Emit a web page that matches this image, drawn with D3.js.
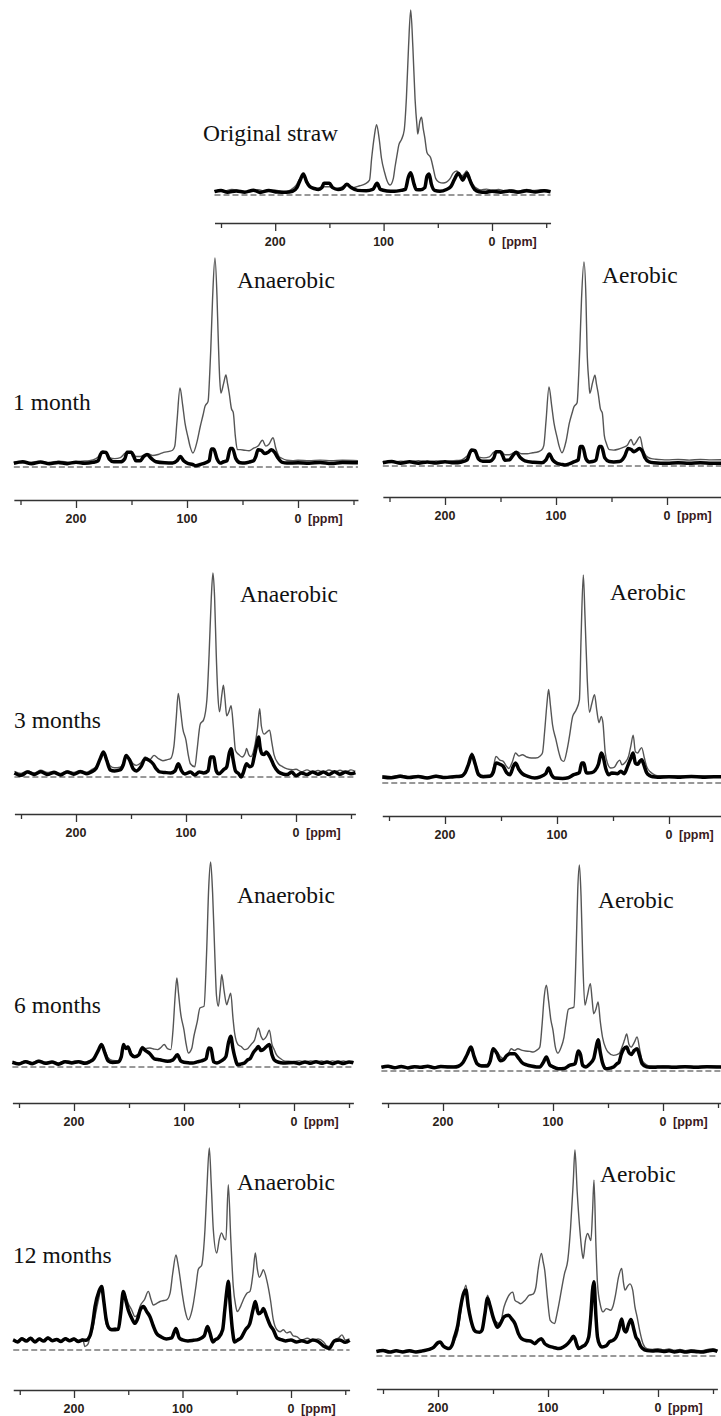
<!DOCTYPE html>
<html>
<head>
<meta charset="utf-8">
<script src="https://cdn.jsdelivr.net/npm/d3@7"></script>
<style>
  body { margin: 0; background: #fff; }
  svg { display: block; }
</style>
</head>
<body>
<svg id="fig" width="721" height="1416"></svg>
<script>
// spectra: [ppm, relative intensity], main peak = 100, dashed baseline = 0
// thin grey line = whole spectrum, thick black line = second spectrum

const strawThin = [[256,2.5],[248,2],[240,3],[232,2.2],[224,1.6],[216,2.8],[208,2],[200,2.6],[192,1.8],[186,2.7],[181,5],[177,9],[174,10],[171,8],[167,4.5],[162,3.5],[156,4.5],[150,4.5],[145,3.5],[140,4],[134,5.4],[128,4],[122,5],[117,6],[113,8],[111,20],[108.5,32],[106.5,38],[104,30],[102,20],[99,12],[97,8],[94,5.4],[91,9],[89.5,15],[87.5,22],[86,27],[83.5,30],[81,35],[79,52],[77,80],[75,100],[73,80],[71,52],[69,36],[68.5,33],[66.5,40],[65,42],[63.5,36],[62,31],[60,23],[56.5,20],[54,14],[52,9],[49,7],[45,6.5],[42,7],[38.5,9],[36,11.7],[32.5,13],[30,11],[28,10],[25.5,11.5],[23.4,13],[21,10],[18.8,7],[16,4.5],[14,3.6],[10,2.7],[5,3.2],[0,2.5],[-6,3],[-12,2.2],[-18,2.8],[-25,2.2],[-32,3],[-38,2.4],[-45,2.8],[-54,2.2]];
const strawThick = [[256,1.8],[250,2.5],[244,1.5],[236,2.2],[228,1.5],[220,2.6],[214,1.4],[206,2.5],[198,1.6],[190,1.5],[184,2],[180,4],[177,8],[174,11.4],[171,7],[168,4.5],[164,3.5],[160,3],[157,4],[155,6.3],[150,6.3],[147,4],[142,3],[138,3.5],[134,5.8],[130,4],[124,2.5],[116,2.3],[110,3],[106,6.3],[103,3],[97,2.2],[90,2],[84,2.5],[80,3],[77,10],[75,12],[72,6],[70,3],[66,2.8],[62,4],[60,10],[58,11.4],[56,6],[53,2.5],[48,2],[42,3],[38,4.5],[35,8],[31,11.7],[29,10],[27,8],[25,10],[23,11.7],[21,9],[19,6],[16,3],[12,1.8],[6,1.5],[0,2],[-8,1.5],[-16,2.2],[-24,1.5],[-32,2.3],[-40,1.6],[-48,2.3],[-54,1.8]];

const an1Thin = [[256,2.3],[245,2],[235,2.6],[225,2.2],[215,2.8],[205,2.2],[195,2.8],[188,3],[182,4],[178,6],[175.5,7.5],[173,6.5],[170,4.5],[165,4],[160,4.5],[156,6.5],[153,7],[149,6.8],[146,5],[142,5],[138,6],[135,6.4],[131,5.5],[126,6],[121,7],[116,7.5],[113,8],[111,10],[109,22],[106.3,37.8],[104,30],[101.8,21],[99,14],[97.3,10],[94.6,6.7],[91,12],[88,19.5],[85.5,25],[83.8,29],[81,31.4],[79.5,45],[78.6,56],[77,80],[74.8,100],[73,82],[72,64],[70.5,42],[69.5,35.4],[67,40],[64.9,44],[63.5,40],[62,35.4],[60,28],[58.3,26],[56.5,15],[54.6,8.3],[52,8.3],[48,8],[44,7.8],[40,9],[36,10],[32,12.8],[29,10],[26,11],[22.5,14],[20,9],[17,5],[15,4.3],[10,3.2],[5,3],[0,3.2],[-10,3],[-20,3.3],[-30,3],[-40,3.2],[-54,3]];
const an1Thick = [[256,1.8],[248,2.5],[240,1.6],[232,2.4],[224,1.5],[216,2.2],[208,1.6],[200,2.3],[192,1.8],[185,2.2],[180,3],[178,6],[176,7.2],[173,7],[170,3.8],[166,2.5],[160,2.5],[156,4],[154,7],[150,7],[148,5],[146,3],[142,3],[139,5],[136,6],[132,4],[128,2.5],[120,2],[113,1.9],[109,3],[106,5],[103,3],[100,1.9],[95,1.2],[92,0.6],[88,1.2],[84,1.9],[80,3],[78,8.6],[76,8.6],[73,4],[70,1.9],[67,2.5],[64,3],[61,8.8],[59,8.8],[56,4],[52,2],[48,1.9],[43,2.5],[40,3],[38,5],[36,8.3],[33,8],[30,6.4],[27,7],[24,8.3],[21,7],[18,4.3],[14,2.2],[10,1.9],[0,2],[-10,1.8],[-20,2.2],[-30,1.7],[-40,2.2],[-54,2]];

const ae1Thin = [[256,2.2],[248,1.8],[240,2.4],[232,2],[224,2.6],[216,2],[208,2.5],[200,2.1],[192,2.6],[186,2.8],[182,4],[178,6],[175.5,7.8],[173,6.5],[170,4.5],[165,4],[160,4.5],[156,6.8],[153,7.3],[149,7],[146,5.5],[142,5.5],[138,6.5],[135,7],[131,6],[126,6],[121,6.5],[116,7],[113,7.8],[111,10],[109,22],[106.3,38.8],[104,30],[101.8,21],[99,14],[97.3,10],[94.6,6.5],[91,12],[88,21],[85.5,26],[83.8,29],[81,31],[79.5,45],[78.6,57],[77,82],[74.8,100],[73,82],[72,57],[70.5,42],[69.5,35.6],[67,41],[64.9,44.5],[63.5,40],[62,35.6],[60,28],[58.3,26],[56.5,15],[54.6,11],[52,8],[48,7.8],[44,8.2],[40,9],[36,10],[32.4,13],[30,10.3],[28,11.5],[24.3,14.4],[22,9],[20,6],[17,4.2],[14,3.6],[10,3.3],[5,3.1],[0,3],[-10,3.2],[-20,2.9],[-30,3.2],[-40,3],[-54,3.1]];
const ae1Thick = [[256,1.6],[248,2.2],[240,1.4],[232,2.1],[224,1.4],[216,2],[208,1.5],[200,2.1],[192,1.6],[185,2],[180,3],[178,6],[176,7.8],[173,7.5],[170,3.5],[166,2.3],[160,2.3],[156,4],[154,7],[150,7],[148,5],[146,2.8],[142,3],[139,5],[136,6.7],[132,4],[128,2.5],[120,1.8],[113,1.6],[109,3],[106,5.9],[103,3],[100,1.6],[95,0.8],[92,0.5],[88,1],[84,2],[80,3],[78,9.5],[76,9.5],[73,3.5],[70,2],[67,2.2],[64,3],[61,9.5],[59,9.5],[56,4],[52,2.2],[48,2],[43,2.2],[40,3.3],[38,5],[35,8.6],[32,8],[30,7],[28,7.5],[25,8.6],[22,7],[20,4.2],[16,2],[12,1.6],[0,1.3],[-10,1.6],[-20,1.3],[-30,1.6],[-40,1.3],[-54,1.5]];

const an2Thin = [[256,2.8],[250,1.8],[244,3],[238,2],[232,3.3],[226,2.2],[220,2.8],[214,1.8],[208,3],[202,2.2],[196,3.2],[190,2.4],[186,3.5],[182,5],[178,9],[175,12.3],[172,9],[169,5.5],[165,4.5],[160,4.8],[157,7],[154.5,10.6],[151,9],[148,6.5],[145,5.7],[141,7],[137,9.8],[133,8.5],[129,10.6],[125,9],[121,8],[117,8.5],[114,9],[111,15],[109,28],[107,41],[105,33],[103,24],[100,18],[98,11],[96,6.5],[92,5],[90,13],[87,26],[84,28],[81,38],[79,60],[77,88],[75.5,100],[74,88],[72.5,60],[71,40],[69.5,32],[67.5,40],[66,45],[64.5,38],[63,30],[61,32],[59,35],[57,25],[55,13],[52,11],[49,9.8],[46,12],[45,14],[43,11],[41,10],[38,14],[35,24],[33,33.5],[31.5,25],[29,21],[26.5,22],[24,23],[22,17],[20,11],[16,6.5],[12,5],[8,4],[3,3.6],[0,3.8],[-5,2.6],[-10,3.5],[-15,2.4],[-20,3.2],[-25,2.4],[-30,3.4],[-35,2.5],[-40,3.3],[-45,2.4],[-50,3.5],[-54,2.8]];
const an2Thick = [[256,2],[250,0.8],[244,2.4],[238,1.2],[232,2.6],[226,1.2],[220,2.2],[214,1],[208,2.5],[202,1.4],[196,2.6],[190,1.6],[186,2.5],[182,4],[178,9],[175,12.3],[172,8],[169,3.5],[165,3],[160,3.5],[157,6],[154.5,10.6],[151,8],[148,4],[145,3],[141,5],[137,9],[133,8],[130,6.5],[127,4],[124,2.5],[119,2.2],[114,2],[110,3],[107,6.5],[104,3],[101,1.5],[96,2.4],[92,1],[88,2.5],[84,2],[80,3],[77.5,9.8],[75,9.8],[72.5,3],[70,1.6],[66,3.5],[63,5],[60.5,12],[59,13.9],[57,8],[55,3],[52,1.5],[50,0],[48,2],[45,6.5],[42,5],[40,5.5],[38,10],[36,15],[34,19.6],[32.5,14],[31,11.4],[29,11],[27,12.3],[25,11],[22,8],[20,5.5],[16,2.5],[12,1.5],[8,1.2],[4,2.4],[0,0.6],[-5,2],[-10,1.2],[-15,2.5],[-20,1.4],[-25,2.4],[-30,1.2],[-35,2.6],[-40,1.4],[-45,2.4],[-50,1.6],[-54,2.2]];

const ae2Thin = [[256,3.4],[248,3],[240,3.8],[232,3],[224,3.5],[216,2.8],[208,3.6],[200,3],[192,3.5],[186,3.6],[182,5],[179,9],[176,14.4],[173,10],[170,5],[166,3.6],[160,3.8],[157,7],[154.5,12.8],[151,11],[148,10.4],[145,8],[143,7],[140,10],[137,14.4],[134,13],[131,13.6],[127,12.5],[123,12],[119,12],[115,13],[113,14.4],[111,25],[109,38],[107.5,45],[106,38],[104,28],[101,21],[98,14],[96,11],[94,10.4],[91,16],[89,22],[86,32],[83,35],[80,40],[78.5,70],[76.5,100],[75,80],[73,50],[71,34],[69,38],[66.5,42.5],[64.5,35],[62.5,29],[60.5,32],[59,29],[57,15],[55,9.6],[52,7.2],[49,7.5],[46,10],[44,11],[42,8.8],[39,10],[36,13],[34,18],[32,23],[30,15],[28,14.4],[26,16],[24.4,17],[22,12],[20,8],[17,5.5],[14,4.3],[10,3.5],[5,3.5],[0,3.4],[-10,3.5],[-20,3.2],[-30,3.5],[-40,3.3],[-54,3.4]];
const ae2Thick = [[256,2.9],[248,2.5],[240,3.2],[232,2.6],[224,3.1],[216,2.4],[208,3.2],[200,2.6],[192,3],[186,3.2],[182,5],[179,9],[176,13.6],[173,9],[170,4],[166,3],[160,3.2],[157,5],[154.5,9.6],[151,9],[148,8],[145,5],[142,4],[139,8],[137,9.6],[134,6.5],[131,4.5],[126,3.2],[120,2.4],[115,3],[110,4.5],[107.5,7.2],[105,4],[102,2.4],[95,2.2],[90,2.5],[85,4],[80,5],[78,9.6],[76,9.6],[74,5],[72,4.8],[69,5],[66,6],[63,9],[60.5,14.4],[59,13],[56.5,7],[54,4],[51,4.8],[46,4.5],[43,5.6],[40,4.5],[37,8],[34,12],[32,14.4],[30,9.5],[28,9],[26,10.5],[24.4,11.2],[22,8],[20,5],[17,3.5],[14,3],[10,2.8],[0,3],[-10,2.8],[-20,3.1],[-30,2.8],[-40,3],[-54,2.9]];

const an3Thin = [[256,2.8],[250,2],[244,3],[238,2.2],[232,3.2],[226,2.4],[220,2.6],[214,2],[208,3],[202,2.6],[196,3],[190,2.4],[186,3],[182,4.5],[178,8],[175,11],[172,8],[169,4.5],[165,3.2],[160,3],[157,5],[155,11.4],[153,9],[151,10],[148,7],[145,5.5],[141,6],[138,10],[135,9],[131,9.3],[127,8.7],[124,8.5],[121,9.5],[118,11],[115,9],[112,8.5],[110,18],[108,35],[106.5,43.4],[105,36],[103,26],[100,18],[98,11],[96,6.8],[93,9],[91,15],[88,22],[85.5,28.8],[81.8,29.6],[79.5,55],[77.5,88],[75.8,100],[74,85],[72,55],[70.5,35],[68.8,29.6],[67,38],[65.7,45],[63.5,37],[61.2,30.4],[59.5,33],[57.5,36],[55.5,24],[54,16.6],[51,11],[48,10],[45,8.5],[42,9],[39,11],[36,13],[32.4,19],[30,15],[28,13.3],[25,15],[22.4,18],[20,11],[18,8.5],[16,6],[13,4.4],[9,3],[5,2.8],[0,2.6],[-5,3],[-10,2.4],[-15,3],[-20,2.6],[-25,2.9],[-30,2.3],[-35,3],[-40,2.5],[-45,2.9],[-50,2.4],[-54,2.8]];
const an3Thick = [[256,2.3],[250,1.5],[244,2.6],[238,1.6],[232,2.8],[226,1.8],[220,2.4],[214,1.4],[208,2.6],[202,2],[196,2.6],[190,1.8],[186,2.5],[182,4],[178,8],[175,11],[172,7],[169,3],[165,2.2],[160,2.4],[157,5],[155,11],[153,9],[151,9.8],[148,6],[145,5],[141,6],[138,9.3],[135,8],[131,6.5],[127,4],[122,3.5],[115,2.8],[110,3.5],[106,6],[103,3],[100,2.3],[95,2],[92,1.9],[88,2.5],[84,3],[80,4],[77.5,9.3],[75.5,9],[73,2.5],[70,2],[66,3],[62,5],[59.5,12],[57.5,15],[55.5,9],[54,5.3],[51,1.1],[48,1.5],[45,2],[42,3.5],[40,4],[37,7],[34,9],[32.4,10],[30,8],[28,8.5],[25,10],[22.4,11],[20,6],[18,3.5],[14,2.3],[10,2],[0,2.2],[-5,1.6],[-10,2.5],[-15,1.8],[-20,2.6],[-25,1.8],[-30,2.5],[-35,1.6],[-40,2.4],[-45,1.7],[-50,2.5],[-54,2]];

const ae3Thin = [[256,2],[250,2.6],[244,1.8],[238,2.5],[232,1.7],[226,2.4],[220,2],[214,2.6],[208,1.9],[202,2.5],[196,2.4],[190,2.2],[186,2.6],[182,4],[178,8],[174.5,11.6],[172,8],[169,4],[165,3],[160,3.2],[157,6],[154.5,10.8],[151,9.5],[148,7],[145,6],[141,8],[138,10.8],[135,10],[132,10.8],[128,10],[125,9.7],[121,9.5],[118,9.2],[115,10],[112,11.6],[110,22],[108,36],[106,41.6],[104,34],[102,25],[100,19.7],[98,12],[95.5,8.7],[93,11],[90,16.5],[88,24],[86,30],[81,31],[79,58],[77.5,88],[76,100],[74.5,85],[73,55],[71,32],[69,36],[66,42.4],[64.5,35],[63,27.8],[61,30],[59,33.5],[57,24],[55,16.5],[52,11],[50,9.2],[45,7.6],[40,8.4],[37,12],[35,15],[33,18],[31,13],[29,11.6],[26,14],[23.6,16.5],[21,10],[19,5.2],[15,3],[12,2.4],[5,2.3],[0,2.4],[-10,2.2],[-20,2.5],[-30,2.2],[-40,2.4],[-54,2.2]];
const ae3Thick = [[256,1.8],[250,2.3],[244,1.6],[238,2.2],[232,1.5],[226,2.1],[220,1.8],[214,2.3],[208,1.6],[202,2.2],[196,2],[190,1.9],[186,2.3],[182,4],[178,8],[174.5,11.6],[172,7.5],[169,3.5],[165,2.4],[160,2.4],[157,5],[154.5,10.8],[151,8.5],[148,5],[145,5.5],[142,7.5],[139,8.4],[135,8.4],[131,6],[128,4],[124,3],[120,2.4],[115,2],[112,2],[109,4],[106,6.8],[103,3],[100,2],[95,1.1],[90,1.2],[85,2.7],[80,3.5],[78,8],[77,9.7],[75,8],[73,2.7],[70,2],[67,3.2],[63,6],[61,11],[59,15.2],[57,9],[55,4],[52,1.1],[48,1.4],[45,1.9],[42,3.5],[40,4.2],[38,8],[36,10.5],[33,11.6],[31,9],[29,8],[26,10],[23.6,10.8],[21,7],[19,3.5],[15,2],[12,1.8],[5,1.9],[0,2],[-10,1.8],[-20,2.1],[-30,1.8],[-40,2.1],[-54,1.9]];

const an4Thin = [[256,5.5],[252,4.5],[248,6],[244,5],[240,6.2],[236,4.5],[232,5.8],[228,4.8],[224,6.5],[220,5],[216,5.6],[212,4.6],[208,6],[204,5],[200,5.8],[196,4.8],[192,5.5],[190,1.7],[187,3],[185.3,6.6],[182.5,11],[180.6,16.5],[177,26],[174.5,31.4],[172.5,24],[170.5,13],[168,11],[165.3,10.7],[162,11],[159.2,10.7],[157,18],[154.5,28],[152,26],[150,23],[147,20],[143.8,16.5],[141,18],[139.2,21.5],[135,25],[131.5,29],[129,25],[126.9,22.3],[124,23],[120.7,24],[117,24.5],[114.6,24.8],[111.5,28],[109,38],[106,47],[104,42],[102.3,36],[100,27],[97.7,19.8],[94.6,14.9],[92,18],[90,23],[87.5,32],[85.4,40],[82.3,42],[80.5,50],[79.3,59.5],[77.5,80],[75.3,100],[73.5,82],[71.6,59.5],[68.5,48],[66,55],[64,58],[61.5,55],[60,54.5],[57.8,81.8],[55.5,55],[53.2,31.4],[51,22],[49.5,19],[47,21],[45.4,23],[43,26],[40.8,28],[37.8,29],[35,38],[32.9,48],[31,40],[29.2,36],[27,38],[25.5,39.7],[22.4,34.7],[19,25],[16.3,14.9],[13,10],[10.1,9],[7,10],[4,8.5],[0.9,9],[-2,7],[-5.2,6.6],[-10,5],[-15,5.8],[-20,4.8],[-25,5.5],[-30,4],[-33,2],[-36,1.7],[-40,5],[-44,6],[-47,7.5],[-50,5],[-54,5.5]];
const an4Thick = [[256,5],[252,4],[248,5.6],[244,4.4],[240,5.8],[236,4],[232,5.4],[228,4.4],[224,6],[220,4.6],[216,5.2],[212,4.2],[208,5.6],[204,4.6],[200,5.4],[196,4.2],[192,5],[189,4.8],[185.3,7],[182.5,14],[180.6,21.5],[177,29],[174.5,31.4],[172.5,24],[170.5,15.7],[168,11],[165.3,10],[162,10],[159.2,10.2],[157,18],[154.5,29],[152,24],[150,19.8],[147,16],[143.8,13.2],[141,16],[139.2,19.5],[136,21.5],[133,19],[130,16.5],[127,12],[124,8.3],[120,6.6],[115,5.5],[110,6],[106,10.7],[103,6],[100,5],[95,4.5],[90,4.8],[85,5.3],[80,7],[77,11.6],[75,9],[72,4],[70,5],[67,6],[63,10],[61,20],[59,30],[57.8,34],[56,22],[54,10],[52,4],[49,5],[46,6],[42,10],[38,13],[35,20],[32.9,24],[30,18],[27,19],[25.5,20.6],[22.4,16.5],[19,12],[16.3,10],[13,6],[10,5.3],[5,4.5],[0,5],[-5,4],[-10,4.6],[-15,3.8],[-20,5],[-25,4.2],[-30,2],[-35,0.8],[-40,4.5],[-45,5],[-50,3.8],[-54,4.8]];

const ae4Thin = [[256,2.5],[250,3],[244,2.2],[238,2.8],[232,2.3],[226,2.9],[220,2.2],[214,2.8],[208,3.5],[204,4.5],[200,6],[198,6.8],[195,5.2],[192,4],[190,3.6],[187,5.5],[185,7.6],[182,12],[180,19],[177,30],[174.6,34.4],[172.5,26],[170,16.5],[167,12.5],[165,11.7],[162,11.5],[160,12.5],[157.5,20],[155,29.5],[152.5,25],[150,19],[148,17],[143.6,15.7],[140,23.8],[137,28],[132,31],[130,27],[127,26],[125,25.4],[121,27],[117,29.5],[113.6,30],[111,33.5],[109,42],[106,49.8],[104.5,46],[103,41.7],[100.5,28],[98,17.3],[94,15.7],[92,20],[90,25.4],[87.5,33],[85,40],[82,46.5],[79.5,62],[77,85],[75.5,100],[73.5,80],[71,61],[69,50],[68,47.3],[66,56],[64,59.5],[61,56],[59.5,70],[58.2,85.4],[56.5,55],[55,35],[52.5,25],[50,21.4],[47,23],[43,22.2],[41,24],[38.5,30],[36,38],[33,42.5],[31.5,36],[30,32],[27.5,34],[25.5,35],[23,32],[21,24],[19,19],[16.5,12],[13.6,6],[10,3.6],[5,3.2],[0,3.6],[-5,3],[-10,3.4],[-15,2.8],[-20,3.2],[-25,2.6],[-30,3.1],[-35,2.8],[-40,2.6],[-45,3.2],[-50,3.6],[-54,2.8]];
const ae4Thick = [[256,2.2],[250,2.7],[244,1.9],[238,2.5],[232,2],[226,2.6],[220,1.9],[214,2.5],[208,3.2],[204,4.2],[200,6.5],[198,6.8],[195,4.7],[192,3.8],[190,3.6],[187,5.5],[185,9.2],[182,15],[180,22],[177,30],[174.6,32],[172.5,24],[170,17.3],[167,12.5],[165,11.7],[162,11.5],[160,12.5],[157.5,20],[155,28],[152.5,24],[150,19],[148,16],[146,14],[143,16],[140,19],[136,19.8],[133,18],[130,15.7],[127,11],[124,8.4],[120,7.5],[116,7.3],[112,6],[109,7.5],[106,8.4],[103,6],[100,5],[97,4.4],[94,4],[90,3.6],[86,4.4],[82,6],[79,8],[77,9.6],[75.5,8.5],[73.5,5],[72,3.6],[69,4.5],[66,5.5],[63,9.2],[61,20],[59.5,32],[58.2,36],[56.5,20],[55,9.2],[53,5.5],[51,4.4],[47,5],[44,7],[41,7.6],[38,9.2],[36,12],[33,18],[31,13],[29,11.7],[27,15],[24.5,17.7],[22,13],[20,9],[18,7.6],[16,5],[14,3.6],[10,2.6],[5,2.4],[0,2.6],[-5,2.2],[-10,2.5],[-15,2],[-20,2.4],[-25,1.9],[-30,2.3],[-35,2.1],[-40,1.9],[-45,2.4],[-50,2.8],[-54,2.2]];

const tickValues = [250, 200, 150, 100, 50, 0, -50];
const labelledTicks = [200, 100, 0];
const ppmDomain = [256, -54];

// panel placement (x0 = pixel of 0 ppm, k = px per ppm, top = y of intensity 100, base = y of 0)
const panels = [
  { thin: strawThin, thick: strawThick, x0: 492, k: 1.084, top: 10,   base: 195,  axis: 223,
    texts: [{ t: 'Original straw', x: 203, y: 141 }] },
  { thin: an1Thin, thick: an1Thick, x0: 298, k: 1.11, top: 258, base: 467, axis: 500,
    texts: [{ t: 'Anaerobic', x: 237, y: 288 }, { t: '1 month', x: 13, y: 410 }] },
  { thin: ae1Thin, thick: ae1Thick, x0: 667, k: 1.11, top: 262, base: 466, axis: 497,
    texts: [{ t: 'Aerobic', x: 602, y: 283 }] },
  { thin: an2Thin, thick: an2Thick, x0: 296, k: 1.1, top: 573, base: 777, axis: 814,
    texts: [{ t: 'Anaerobic', x: 240, y: 602 }, { t: '3 months', x: 14, y: 728 }] },
  { thin: ae2Thin, thick: ae2Thick, x0: 669, k: 1.12, top: 575, base: 783, axis: 816,
    texts: [{ t: 'Aerobic', x: 610, y: 600 }] },
  { thin: an3Thin, thick: an3Thick, x0: 294, k: 1.1, top: 862, base: 1067, axis: 1103,
    texts: [{ t: 'Anaerobic', x: 237, y: 903 }, { t: '6 months', x: 14, y: 1013 }] },
  { thin: ae3Thin, thick: ae3Thick, x0: 663, k: 1.1, top: 865, base: 1071, axis: 1103,
    texts: [{ t: 'Aerobic', x: 598, y: 908 }] },
  { thin: an4Thin, thick: an4Thick, x0: 291, k: 1.085, top: 1148, base: 1350, axis: 1390,
    texts: [{ t: 'Anaerobic', x: 237, y: 1190 }, { t: '12 months', x: 13, y: 1263 }] },
  { thin: ae4Thin, thick: ae4Thick, x0: 658, k: 1.1, top: 1150, base: 1356, axis: 1389,
    texts: [{ t: 'Aerobic', x: 600, y: 1182 }] }
];

const svg = d3.select('#fig');
svg.append('rect').attr('width', 721).attr('height', 1416).attr('fill', '#fff');

panels.forEach((p) => {
  const x = d3.scaleLinear()
    .domain(ppmDomain)
    .range([p.x0 - ppmDomain[0] * p.k, p.x0 - ppmDomain[1] * p.k]);
  const y = d3.scaleLinear().domain([0, 100]).range([p.base, p.top]);
  const line = d3.line()
    .x((d) => x(d[0]))
    .y((d) => y(d[1]))
    .curve(d3.curveMonotoneX);

  const g = svg.append('g');

  // dashed zero line
  g.append('line')
    .attr('x1', x(ppmDomain[0])).attr('x2', x(ppmDomain[1]))
    .attr('y1', y(0)).attr('y2', y(0))
    .attr('stroke', '#333')
    .attr('stroke-width', 1)
    .attr('stroke-dasharray', '6,3');

  g.append('path')
    .datum(p.thin)
    .attr('d', line)
    .attr('fill', 'none')
    .attr('stroke', '#555')
    .attr('stroke-width', 1.4)
    .attr('stroke-linejoin', 'round');

  g.append('path')
    .datum(p.thick)
    .attr('d', line)
    .attr('fill', 'none')
    .attr('stroke', '#000')
    .attr('stroke-width', 3.5)
    .attr('stroke-linejoin', 'round');

  // ppm axis
  const axis = g.append('g')
    .attr('transform', `translate(0,${p.axis})`)
    .call(d3.axisBottom(x).tickValues(tickValues).tickSize(5).tickSizeOuter(0).tickFormat(''));
  axis.select('.domain').attr('stroke', '#333').attr('stroke-width', 1.3);
  axis.selectAll('.tick line')
    .attr('stroke', '#333')
    .attr('stroke-width', 1.3)
    .attr('y2', (d) => (labelledTicks.includes(d) ? 8 : 5));

  labelledTicks.forEach((v) => {
    g.append('text')
      .attr('x', x(v))
      .attr('y', p.axis + 23)
      .attr('text-anchor', 'middle')
      .attr('font-family', 'Liberation Sans, Arial, sans-serif')
      .attr('font-weight', 'bold')
      .attr('font-size', 12.5)
      .attr('fill', '#2a2218')
      .text(String(v));
  });
  g.append('text')
    .attr('x', x(0) + 10)
    .attr('y', p.axis + 23)
    .attr('font-family', 'Liberation Sans, Arial, sans-serif')
    .attr('font-weight', 'bold')
    .attr('font-size', 12.5)
    .attr('fill', '#3a1a22')
    .text('[ppm]');

  p.texts.forEach((t) => {
    g.append('text')
      .attr('x', t.x)
      .attr('y', t.y)
      .attr('font-family', 'Liberation Serif, Times New Roman, serif')
      .attr('font-size', 23.5)
      .attr('fill', '#111')
      .text(t.t);
  });
});
</script>
</body>
</html>
